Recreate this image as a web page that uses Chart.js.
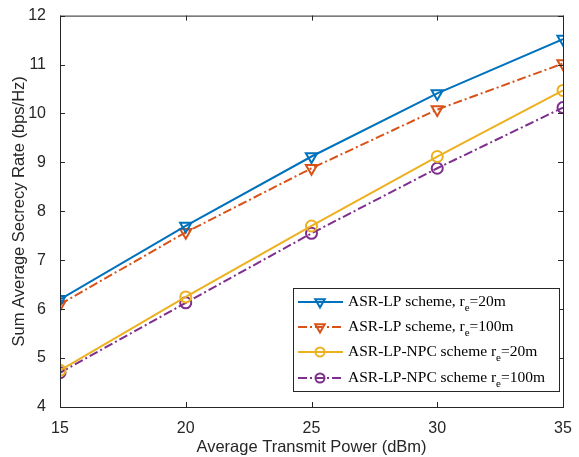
<!DOCTYPE html>
<html>
<head>
<meta charset="utf-8">
<script src="https://cdn.jsdelivr.net/npm/chart.js@4.4.1/dist/chart.umd.min.js"></script>
<style>
  html, body { margin:0; padding:0; background:#fff; }
  #wrap { width:579px; height:457px; position:relative; }
</style>
</head>
<body>
<div id="wrap"><canvas id="c" width="579" height="457"></canvas></div>
<script>
// transmit power (dBm)
const powers = [15, 20, 25, 30, 35];
// sum average secrecy rate (bps/Hz)
const lp20     = [6.2, 7.7, 9.12, 10.41, 11.52];
const lp100    = [6.1, 7.57, 8.88, 10.08, 11.02];
const npc20    = [4.75, 6.25, 7.7, 9.12, 10.47];
const npc100   = [4.7, 6.13, 7.55, 8.88, 10.12];
const seriesNames = ['ASR-LP scheme, r|e|=20m', 'ASR-LP scheme, r|e|=100m', 'ASR-LP-NPC scheme r|e|=20m', 'ASR-LP-NPC scheme r|e|=100m'];
const yTicks = [4, 5, 6, 7, 8, 9, 10, 11, 12];
const xTicks = [15, 20, 25, 30, 35];

const BLUE = '#0072BD', ORANGE = '#D95319', YELLOW = '#EDB120', PURPLE = '#7E2F8E';
const DASHDOT = [9, 3, 2, 3];
const SANS = '"Liberation Sans", Arial';

function mk(data, color, dash, shape) {
  return {
    data: powers.map((x, i) => ({x, y: data[i]})),
    borderColor: color, backgroundColor: 'rgba(0,0,0,0)',
    borderWidth: 2, borderDash: dash,
    pointStyle: shape, rotation: shape === 'triangle' ? 180 : 0,
    pointRadius: shape === 'triangle' ? 6.5 : 5.5,
    pointBorderColor: color, pointBackgroundColor: 'rgba(0,0,0,0)',
    pointBorderWidth: 2, tension: 0
  };
}

const AREA = {left: 60, right: 563, top: 10, bottom: 407};
const PADL = 6;

// box, inward ticks on all sides, and the legend
const frame = {
  id: 'frame',
  afterDatasetsDraw(chart) {
    const {ctx, chartArea: a, scales} = chart;
    ctx.save();
    ctx.strokeStyle = '#262626';
    ctx.lineWidth = 1;
    ctx.strokeRect(a.left + 0.5, a.top + 0.5, a.right - a.left, a.bottom - a.top);
    ctx.beginPath();
    yTicks.forEach(v => {
      const y = Math.round(scales.y.getPixelForValue(v)) + 0.5;
      ctx.moveTo(a.left, y); ctx.lineTo(a.left + 5, y);
      ctx.moveTo(a.right, y); ctx.lineTo(a.right - 5, y);
    });
    xTicks.forEach(v => {
      const x = Math.round(scales.x.getPixelForValue(v)) + 0.5;
      ctx.moveTo(x, a.bottom); ctx.lineTo(x, a.bottom - 5);
      ctx.moveTo(x, a.top); ctx.lineTo(x, a.top + 5);
    });
    ctx.stroke();

    // legend
    const lx = 293, ly = 288, lw = 266, lh = 103;
    ctx.fillStyle = '#fff';
    ctx.fillRect(lx, ly, lw, lh);
    ctx.strokeStyle = '#262626';
    ctx.strokeRect(lx + 0.5, ly + 0.5, lw, lh);
    const rows = [302, 327, 352, 378];
    chart.data.datasets.forEach((ds, i) => {
      const y = rows[i];
      ctx.strokeStyle = ds.borderColor;
      ctx.lineWidth = 2;
      ctx.setLineDash(ds.borderDash);
      ctx.beginPath(); ctx.moveTo(298, y); ctx.lineTo(343, y); ctx.stroke();
      ctx.setLineDash([]);
      ctx.fillStyle = 'rgba(0,0,0,0)';
      Chart.helpers.drawPoint(ctx, {pointStyle: ds.pointStyle, rotation: ds.rotation, radius: ds.pointRadius - 1, borderWidth: 2}, 320, y);
      // label with subscript
      const parts = seriesNames[i].split('|');
      let x = 348;
      ctx.fillStyle = '#000';
      ctx.textBaseline = 'middle';
      ctx.font = '15.5px "Liberation Serif", serif';
      ctx.fillText(parts[0], x, y); x += ctx.measureText(parts[0]).width;
      ctx.font = '11px "Liberation Serif", serif';
      ctx.fillText(parts[1], x, y + 6); x += ctx.measureText(parts[1]).width;
      ctx.font = '15.5px "Liberation Serif", serif';
      ctx.fillText(parts[2], x, y);
    });
    ctx.restore();
  }
};

new Chart(document.getElementById('c'), {
  type: 'line',
  data: {
    datasets: [
      mk(lp20, BLUE, [], 'triangle'),
      mk(lp100, ORANGE, DASHDOT, 'triangle'),
      mk(npc20, YELLOW, [], 'circle'),
      mk(npc100, PURPLE, DASHDOT, 'circle')
    ]
  },
  options: {
    responsive: false, animation: false,
    layout: {padding: {left: PADL, right: 579 - AREA.right, top: AREA.top, bottom: 0}},
    plugins: {legend: {display: false}, tooltip: {enabled: false}},
    scales: {
      x: {
        type: 'linear', min: 15, max: 35,
        afterBuildTicks: s => { s.ticks = xTicks.map(v => ({value: v})); },
        afterFit: s => { s.height = 457 - AREA.bottom; },
        grid: {display: false}, border: {display: false},
        ticks: {color: '#262626', font: {family: SANS, size: 16}, padding: 4, maxRotation: 0},
        title: {display: true, text: 'Average Transmit Power (dBm)', color: '#262626', font: {family: SANS, size: 16.5}, padding: {top: 0, bottom: 0}}
      },
      y: {
        min: 4, max: 12,
        afterBuildTicks: s => { s.ticks = yTicks.map(v => ({value: v})); },
        afterFit: s => { s.width = AREA.left - PADL; },
        grid: {display: false}, border: {display: false},
        ticks: {color: '#262626', font: {family: SANS, size: 16}, padding: 6},
        title: {display: true, text: 'Sum Average Secrecy Rate (bps/Hz)', color: '#262626', font: {family: SANS, size: 16.5}, padding: {top: 4, bottom: 0}}
      }
    }
  },
  plugins: [frame]
});
</script>
</body>
</html>
